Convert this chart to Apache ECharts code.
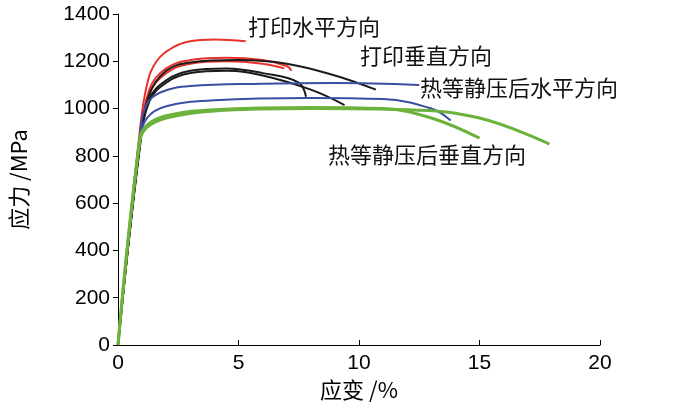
<!DOCTYPE html><html><head><meta charset="utf-8"><script src="https://cdn.jsdelivr.net/npm/echarts@6/dist/echarts.min.js"></script></head><body style="margin:0"><div id="c" style="width:700px;height:414px"></div><script>
const xTicks=[0,5,10,15,20], yTicks=[0,200,400,600,800,1000,1200,1400];
const red1=[[0,0],[0.9,900],[1.2,1100],[1.6,1200],[2.3,1260],[3,1285],[4,1292],[5.3,1285]];
const red2=[[0,0],[0.9,850],[1.3,1080],[2,1170],[3,1205],[4.5,1215],[6,1205],[7,1180],[7.2,1160]];
const red3=[[0,0],[0.9,840],[1.3,1060],[2,1150],[3,1190],[4.5,1200],[6,1190],[6.9,1170]];
const black1=[[0,0],[0.9,850],[1.3,1060],[2,1160],[3,1195],[5,1205],[7,1190],[9,1140],[10.7,1080]];
const black2=[[0,0],[0.9,840],[1.3,1040],[2,1120],[3,1160],[4.5,1170],[6,1150],[7.5,1110],[7.8,1050]];
const black3=[[0,0],[0.9,830],[1.3,1030],[2,1110],[3,1150],[4.5,1160],[6,1140],[8,1080],[9.4,1015]];
const blue1=[[0,0],[0.9,880],[1.2,1020],[1.8,1070],[3,1095],[6,1105],[9,1108],[12.5,1100]];
const blue2=[[0,0],[0.9,860],[1.2,960],[2,1010],[4,1035],[8,1045],[11,1040],[13,1000],[13.8,950]];
const green1=[[0,0],[0.9,870],[1.2,930],[2,970],[4,995],[8,1005],[11,1000],[13,960],[15,875]];
const green2=[[0,0],[0.9,860],[1.2,920],[2,960],[4,990],[8,1000],[12,995],[15,960],[17.9,850]];
const series=[[red1,'#e8322c'],[red2,'#e8322c'],[red3,'#e8322c'],[black1,'#1a1a1a'],[black2,'#1a1a1a'],[black3,'#1a1a1a'],[blue1,'#3b4fa0'],[blue2,'#3b4fa0'],[green1,'#6cb33e'],[green2,'#6cb33e']].map(([d,c])=>({type:'line',data:d,smooth:0.4,symbol:'none',lineStyle:{color:c,width:c==='#6cb33e'?3:2}}));
const txt=(x,y,s)=>({type:'text',left:x,top:y,style:{text:s,font:'22px "Noto Sans CJK SC"',fill:'#111'}});
const ch=echarts.init(document.getElementById('c'));
ch.setOption({animation:false,grid:{left:117,right:100,top:14,bottom:69},
xAxis:{type:'value',min:0,max:20,interval:5,axisLine:{lineStyle:{color:'#000'}},axisTick:{inside:true,lineStyle:{color:'#000'}},splitLine:{show:false},axisLabel:{color:'#000',fontSize:21,fontFamily:'Liberation Sans',formatter:v=>String(v)},name:'应变 /%',nameLocation:'middle',nameGap:34,nameTextStyle:{color:'#000',fontSize:22,fontFamily:'Noto Sans CJK SC'}},
yAxis:{type:'value',min:0,max:1400,interval:200,axisLine:{show:true,lineStyle:{color:'#000'}},axisTick:{show:true,lineStyle:{color:'#000'}},splitLine:{show:false},axisLabel:{color:'#000',fontSize:21,fontFamily:'Liberation Sans',formatter:v=>String(v)},name:'应力 /MPa',nameLocation:'middle',nameGap:88,nameTextStyle:{color:'#000',fontSize:22,fontFamily:'Noto Sans CJK SC'}},
series,
graphic:[txt(248,16,'打印水平方向'),txt(360,45,'打印垂直方向'),txt(420,77,'热等静压后水平方向'),txt(328,144,'热等静压后垂直方向')]});
</script></body></html>
